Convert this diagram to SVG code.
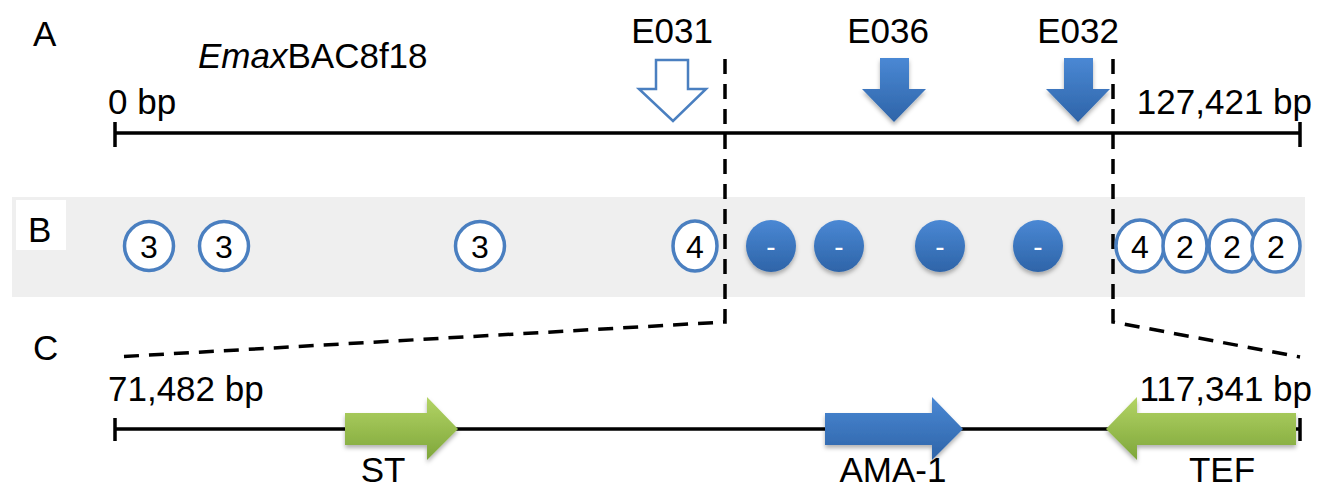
<svg xmlns="http://www.w3.org/2000/svg" width="1322" height="492" viewBox="0 0 1322 492">
<defs>
<linearGradient id="gBlue" x1="0" y1="0" x2="0" y2="1"><stop offset="0" stop-color="#4a88d4"/><stop offset="1" stop-color="#2e64a8"/></linearGradient>
<linearGradient id="gGreen" x1="0" y1="0" x2="0" y2="1"><stop offset="0" stop-color="#b3d465"/><stop offset="1" stop-color="#7ea63a"/></linearGradient>
<filter id="sh" x="-20%" y="-20%" width="140%" height="150%"><feDropShadow dx="0" dy="3" stdDeviation="2" flood-color="#000" flood-opacity="0.3"/></filter>
<style>
text{font-family:"Liberation Sans",Arial,sans-serif;fill:#000}
.lbl{font-size:35px}
.num{font-size:32px;text-anchor:middle}
.line{stroke:#000;stroke-width:3.5;fill:none}
.dash{stroke:#000;stroke-width:3.5;fill:none;stroke-dasharray:15 10}
.hc{fill:#fff;stroke:#4a7fc0;stroke-width:3.5}
.fc{fill:url(#gBlue);filter:url(#sh)}
.minus{fill:#fff;font-size:28px;text-anchor:middle}
</style>
</defs>
<rect width="1322" height="492" fill="#fff"/>
<g id="panelB-band"><rect x="12" y="197" width="1293" height="100" fill="#efefef"/><rect x="16" y="200" width="50" height="50" fill="#fff"/></g>
<g id="labels">
<text class="lbl" x="33" y="46">A</text>
<text class="lbl" x="28" y="242">B</text>
<text class="lbl" x="33" y="360">C</text>
<text class="lbl" x="198" y="68" font-size="37"><tspan font-style="italic">Emax</tspan>BAC8f18</text>
<text class="lbl" x="108" y="114">0 bp</text>
<text class="lbl" x="1312" y="114" text-anchor="end">127,421 bp</text>
<text class="lbl" x="108" y="401">71,482 bp</text>
<text class="lbl" x="1312" y="401" text-anchor="end">117,341 bp</text>
</g>
<g id="scaleA"><path class="line" d="M115 133H1300M115 122V147M1300 122V147"/></g>
<g id="E031"><text class="lbl" x="672" y="43" text-anchor="middle" font-size="36">E031</text><path d="M656 60H688V89H706L673 121L639 89H656Z" fill="#fff" stroke="#4a7fc0" stroke-width="2.5"/></g>
<g id="E036"><text class="lbl" x="888" y="43" text-anchor="middle" font-size="36">E036</text><path d="M880 58H909V89H926L894 122L862 89H880Z" fill="url(#gBlue)" filter="url(#sh)"/></g>
<g id="E032"><text class="lbl" x="1078" y="43" text-anchor="middle" font-size="36">E032</text><path d="M1064 58H1093V89H1110L1078 122L1046 89H1064Z" fill="url(#gBlue)" filter="url(#sh)"/></g>
<g id="connectors">
<path class="dash" d="M725 59V322L115 357"/>
<path class="dash" d="M1113 59V322L1300 357"/>
</g>
<g id="sites">
<circle class="hc" cx="149" cy="246" r="24.5"/><text class="num" x="149" y="258">3</text>
<circle class="hc" cx="224" cy="246" r="24.5"/><text class="num" x="224" y="258">3</text>
<circle class="hc" cx="480" cy="246" r="24.5"/><text class="num" x="480" y="258">3</text>
<ellipse class="hc" cx="695" cy="246" rx="22" ry="25"/><text class="num" x="695" y="258">4</text>
<ellipse class="fc" cx="771" cy="246" rx="25" ry="26"/><text class="minus" x="771" y="256">-</text>
<ellipse class="fc" cx="839" cy="246" rx="25" ry="26"/><text class="minus" x="839" y="256">-</text>
<ellipse class="fc" cx="940" cy="246" rx="25" ry="26"/><text class="minus" x="940" y="256">-</text>
<ellipse class="fc" cx="1038" cy="246" rx="25" ry="26"/><text class="minus" x="1038" y="256">-</text>
<ellipse class="hc" cx="1140" cy="246" rx="24" ry="26"/><text class="num" x="1140" y="258">4</text>
<ellipse class="hc" cx="1185" cy="246" rx="22" ry="26"/><text class="num" x="1185" y="258">2</text>
<ellipse class="hc" cx="1232" cy="246" rx="23" ry="26"/><text class="num" x="1232" y="258">2</text>
<ellipse class="hc" cx="1276" cy="246" rx="24" ry="26"/><text class="num" x="1276" y="258">2</text>
</g>
<g id="scaleC"><path class="line" d="M115 429H1300M115 418V441M1300 418V441"/></g>
<g id="ST"><path d="M345 413H427V397L458 429L427 460V445H345Z" fill="url(#gGreen)" filter="url(#sh)"/><text class="lbl" x="383" y="482" text-anchor="middle">ST</text></g>
<g id="AMA-1"><path d="M825 413H932V397L963 429L932 460V445H825Z" fill="url(#gBlue)" filter="url(#sh)"/><text class="lbl" x="893" y="482" text-anchor="middle">AMA-1</text></g>
<g id="TEF"><path d="M1296 413H1137V397L1106 429L1137 460V445H1296Z" fill="url(#gGreen)" filter="url(#sh)"/><text class="lbl" x="1222" y="482" text-anchor="middle">TEF</text></g>
</svg>
